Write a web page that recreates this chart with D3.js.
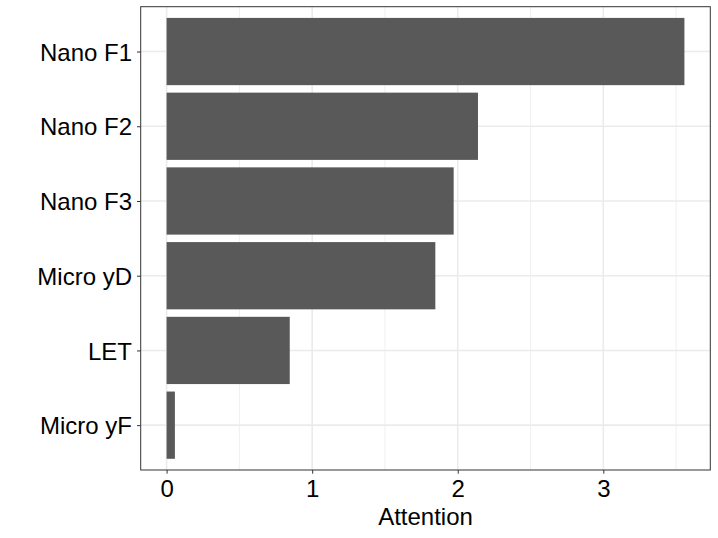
<!DOCTYPE html>
<html>
<head>
<meta charset="utf-8">
<script src="https://cdn.jsdelivr.net/npm/d3@7"></script>
<style>
  body { margin: 0; background: #fff; }
  svg { display: block; font-family: "Liberation Sans", Arial, sans-serif; }
</style>
</head>
<body>
<svg id="chart"></svg>
<script>
// categories top to bottom, with attention values
const features = ["Nano F1", "Nano F2", "Nano F3", "Micro yD", "LET", "Micro yF"];
const attention = [3.557, 2.139, 1.972, 1.846, 0.846, 0.057];
const xTicks = [0, 1, 2, 3];
const xMinor = [0.5, 1.5, 2.5, 3.5];

const width = 718, height = 538;
const margin = { top: 6.7, right: 7.7, bottom: 68, left: 140.7 };
const pw = width - margin.left - margin.right;
const ph = height - margin.top - margin.bottom;

const data = features.map((f, i) => ({ name: f, value: attention[i] }));

const svg = d3.select("#chart")
  .attr("width", width)
  .attr("height", height);

const maxV = d3.max(attention);
const x = d3.scaleLinear()
  .domain([-0.05 * maxV, maxV * 1.05])
  .range([margin.left, margin.left + pw]);

const y = d3.scalePoint()
  .domain(features)
  .range([margin.top, margin.top + ph])
  .padding(0.6);

const barH = y.step() * 0.9;

// grid
const grid = svg.append("g");
grid.selectAll(".minor")
  .data(xMinor)
  .join("line")
  .attr("x1", d => x(d)).attr("x2", d => x(d))
  .attr("y1", margin.top).attr("y2", margin.top + ph)
  .attr("stroke", "#ebebeb")
  .attr("stroke-width", 0.8);

grid.selectAll(".major")
  .data(xTicks)
  .join("line")
  .attr("x1", d => x(d)).attr("x2", d => x(d))
  .attr("y1", margin.top).attr("y2", margin.top + ph)
  .attr("stroke", "#ebebeb")
  .attr("stroke-width", 1.6);

grid.selectAll(".ymajor")
  .data(features)
  .join("line")
  .attr("x1", margin.left).attr("x2", margin.left + pw)
  .attr("y1", d => y(d)).attr("y2", d => y(d))
  .attr("stroke", "#ebebeb")
  .attr("stroke-width", 1.6);

// bars
svg.append("g")
  .selectAll("rect")
  .data(data)
  .join("rect")
  .attr("x", x(0))
  .attr("y", d => y(d.name) - barH / 2)
  .attr("width", d => x(d.value) - x(0))
  .attr("height", barH)
  .attr("fill", "#595959");

// panel border
svg.append("rect")
  .attr("x", margin.left)
  .attr("y", margin.top)
  .attr("width", pw)
  .attr("height", ph)
  .attr("fill", "none")
  .attr("stroke", "#333333")
  .attr("stroke-width", 1);

// axes
const xAxis = svg.append("g")
  .attr("transform", `translate(0,${margin.top + ph})`)
  .call(d3.axisBottom(x).tickValues(xTicks).tickFormat(d3.format("d")).tickSize(3.7).tickPadding(6));

const yAxis = svg.append("g")
  .attr("transform", `translate(${margin.left},0)`)
  .call(d3.axisLeft(y).tickSize(3.7).tickPadding(5));

[xAxis, yAxis].forEach(g => {
  g.select(".domain").remove();
  g.selectAll(".tick line").attr("stroke", "#333333").attr("stroke-width", 1);
  g.selectAll(".tick text")
    .attr("fill", "#000")
    .style("font-size", "24px")
    .style("font-family", "\"Liberation Sans\", Arial, sans-serif");
});

xAxis.selectAll(".tick text").attr("dy", "0.74em").attr("y", 9);
yAxis.selectAll(".tick text").attr("dy", "0.36em");

// axis title
svg.append("text")
  .attr("x", margin.left + pw / 2)
  .attr("y", 524.5)
  .attr("text-anchor", "middle")
  .style("font-size", "24px")
  .text("Attention");
</script>
</body>
</html>
